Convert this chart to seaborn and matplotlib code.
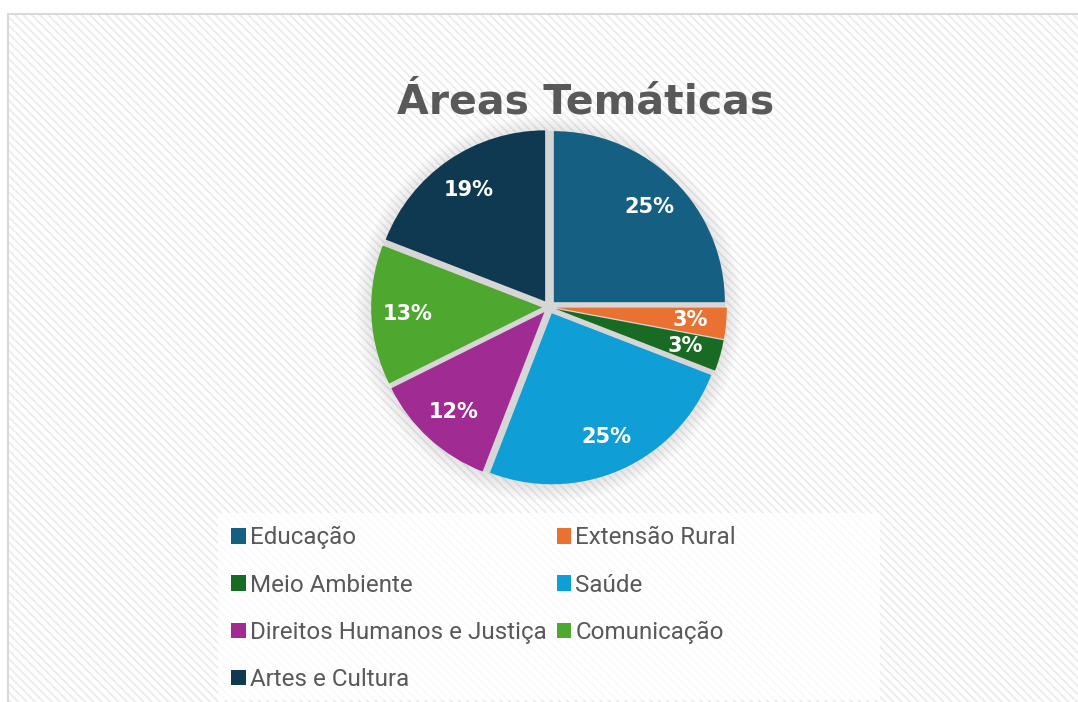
import matplotlib
matplotlib.use("Agg")
import matplotlib.pyplot as plt
from matplotlib.patches import Rectangle, Patch, Circle
import numpy as np
import seaborn as sns

# dados
categorias = ["Educação", "Extensão Rural", "Meio Ambiente", "Saúde",
              "Direitos Humanos e Justiça", "Comunicação", "Artes e Cultura"]
quantidades = [17, 2, 2, 17, 8, 9, 13]
cores = ["#156082", "#E97132", "#196B24", "#0F9ED5", "#A02B93", "#4EA72E", "#0F3950"]
titulo = "Áreas Temáticas"

sns.set_theme(style="white")
plt.rcParams["font.family"] = ["DejaVu Sans"]
plt.rcParams["hatch.linewidth"] = 1.3

W, H = 1078, 702
fig = plt.figure(figsize=(W / 100, H / 100), dpi=100)
fig.patch.set_facecolor("white")

# fundo listrado da area do grafico
x0, y0 = 8 / W, 1 - 14 / H
fundo = Rectangle((x0, 0), 1 - x0 + 0.01, y0, transform=fig.transFigure,
                  facecolor="white", edgecolor="#ececec", linewidth=0,
                  hatch="\\\\\\\\", zorder=-10)
fig.patches.append(fundo)
borda = Rectangle((x0, -0.01), 1, y0 + 0.01, transform=fig.transFigure,
                  facecolor="none", edgecolor="#d9d9d9", linewidth=1.5, zorder=-9)
fig.patches.append(borda)
# caixa branca da legenda
caixa = Rectangle((218 / W, 1 - 700 / H), (880 - 218) / W, (700 - 513) / H,
                  transform=fig.transFigure, facecolor="white", alpha=0.75,
                  edgecolor="none", zorder=-8)
fig.patches.append(caixa)

# titulo
fig.text(586 / W, 1 - 113 / H, titulo, ha="center", va="baseline",
         fontsize=29.5, fontweight="bold", color="#595959")

# pizza
cx, cy, r = 549, 307, 171
lado = 2.3 * r
ax = fig.add_axes([(cx - lado / 2) / W, (H - cy - lado / 2) / H, lado / W, lado / H])
ax.set_zorder(5)
ax.patch.set_visible(False)

# sombra suave
for rr in np.linspace(1.0, 1.13, 9):
    ax.add_patch(Circle((0, -0.01), rr, facecolor="#808080", alpha=0.03,
                        edgecolor="none", zorder=0))
ax.add_patch(Circle((0, 0), 1.03, facecolor="#d6d6d6", edgecolor="none", zorder=0))

wedges, _, autotexts = ax.pie(
    quantidades, colors=cores, startangle=90, counterclock=False,
    explode=[0.04] * len(quantidades), radius=1.0,
    autopct=lambda p: f"{p:.0f}%", pctdistance=0.79,
    wedgeprops=dict(linewidth=0),
    textprops=dict(color="white", fontsize=15, fontweight="bold"))
for w in wedges:
    w.set_zorder(2)
for t in autotexts:
    t.set_zorder(3)
ax.set_xlim(-1.15, 1.15)
ax.set_ylim(-1.15, 1.15)
ax.set_aspect("equal")
ax.axis("off")

# legenda (ordem por linhas, como no original)
ordem = [0, 2, 4, 6, 1, 3, 5]
handles = [Patch(facecolor=cores[i], edgecolor="none") for i in ordem]
rotulos = [categorias[i] for i in ordem]
leg = fig.legend(handles, rotulos, ncol=2, loc="upper left",
                 bbox_to_anchor=(218 / W, 1 - 513 / H),
                 prop=dict(family="Roboto", size=17.4),
                 labelcolor="#595959", frameon=False,
                 handlelength=0.6, handleheight=0.6, handletextpad=0.18,
                 columnspacing=0.4, labelspacing=1.0, borderpad=0.55,
                 borderaxespad=0)

fig.savefig("out.png", dpi=100)
